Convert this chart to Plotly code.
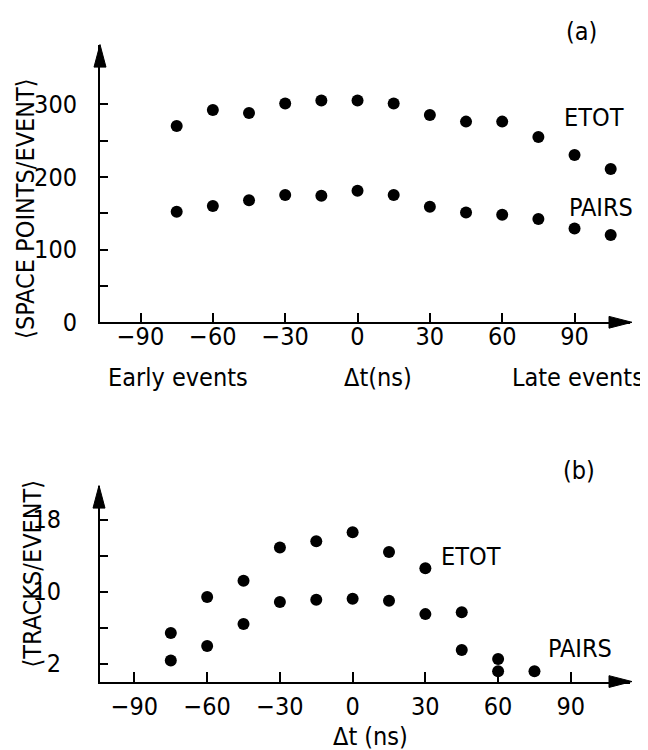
import plotly.graph_objects as go

# ---------------- data ----------------
dt_a = [-75, -60, -45, -30, -15, 0, 15, 30, 45, 60, 75, 90, 105]
etot_a = [270, 292, 288, 301, 305, 305, 301, 285, 276, 276, 255, 230, 211]
pairs_a = [152, 160, 168, 175, 174, 181, 175, 159, 151, 148, 142, 129, 120]

dt_b_etot = [-75, -60, -45, -30, -15, 0, 15, 30, 45, 60]
etot_b = [5.4, 9.4, 11.2, 14.9, 15.6, 16.6, 14.4, 12.6, 7.7, 2.5]
dt_b_pairs = [-75, -60, -45, -30, -15, 0, 15, 30, 45, 60, 75]
pairs_b = [2.35, 3.95, 6.4, 8.85, 9.1, 9.2, 9.0, 7.5, 3.5, 1.15, 1.15]

x_tick_vals = [-90, -60, -30, 0, 30, 60, 90]
x_tick_text = ["\u221290", "\u221260", "\u221230", "0", "30", "60", "90"]
ya_tick_vals = [0, 50, 100, 150, 200, 250, 300]
ya_tick_text = ["0", "", "100", "", "200", "", "300"]
yb_tick_vals = [2, 6, 10, 14, 18]
yb_tick_text = ["2", "", "10", "", "18"]

W, H = 648, 750
FONT = "DejaVu Sans Condensed, DejaVu Sans, sans-serif"
FS = 25


def px(x, y):
    return x / W, 1 - y / H


fig = go.Figure()
mk = dict(size=12, color="black")
fig.add_trace(go.Scatter(x=dt_a, y=etot_a, mode="markers", marker=mk, xaxis="x", yaxis="y"))
fig.add_trace(go.Scatter(x=dt_a, y=pairs_a, mode="markers", marker=mk, xaxis="x", yaxis="y"))
fig.add_trace(go.Scatter(x=dt_b_etot, y=etot_b, mode="markers", marker=mk, xaxis="x2", yaxis="y2"))
fig.add_trace(go.Scatter(x=dt_b_pairs, y=pairs_b, mode="markers", marker=mk, xaxis="x2", yaxis="y2"))

axis_common = dict(showline=True, linewidth=2, linecolor="black", ticks="inside",
                   tickwidth=2, tickcolor="black", showgrid=False, zeroline=False,
                   tickfont=dict(family=FONT, size=FS, color="black"))

xdom = [92 / W, 622 / W]
fig.update_layout(
    width=W, height=H, margin=dict(l=0, r=0, t=0, b=0),
    paper_bgcolor="white", plot_bgcolor="white", showlegend=False,
    xaxis=dict(domain=xdom, range=[-106.8, 113.0], anchor="y", tickvals=x_tick_vals,
               ticktext=x_tick_text, ticklen=9, ticklabelstandoff=-9, **axis_common),
    yaxis=dict(domain=[1 - 320.7 / H, 1 - 37.3 / H], range=[0, 382], anchor="x",
               tickvals=ya_tick_vals, ticktext=ya_tick_text, ticklen=8,
               ticklabelstandoff=16, **axis_common),
    xaxis2=dict(domain=xdom, range=[-104.2, 114.4], anchor="y2", tickvals=x_tick_vals,
                ticktext=x_tick_text, ticklen=10, ticklabelstandoff=1, **axis_common),
    yaxis2=dict(domain=[1 - 687.3 / H, 1 - 487.3 / H], range=[0, 21.8], anchor="x2",
                tickvals=yb_tick_vals, ticktext=yb_tick_text, ticklen=8,
                ticklabelstandoff=32, **axis_common),
)

# arrowheads
def tri(pts):
    p = [px(*q) for q in pts]
    return "M {} {} L {} {} L {} {} Z".format(p[0][0], p[0][1], p[1][0], p[1][1], p[2][0], p[2][1])

shapes = []
for (ax_x, top_y, axis_y) in [(92, 37.3, 320.7), (91, 487.3, 687.3)]:
    shapes.append(dict(type="path", xref="paper", yref="paper",
                       path=tri([(ax_x, top_y), (ax_x - 6, top_y + 23), (ax_x + 6, top_y + 23)]),
                       fillcolor="black", line=dict(color="black", width=1)))
    shapes.append(dict(type="path", xref="paper", yref="paper",
                       path=tri([(624, axis_y), (601, axis_y - 6), (601, axis_y + 6)]),
                       fillcolor="black", line=dict(color="black", width=1)))
fig.update_layout(shapes=shapes)

def ann(text, x, y, angle=0):
    ax_, ay_ = px(x, y)
    fig.add_annotation(text=text, x=ax_, y=ay_, xref="paper", yref="paper",
                       showarrow=False, textangle=angle, xanchor="center", yanchor="middle",
                       font=dict(family=FONT, size=FS, color="black"))

ann("(a)", 573, 24)
ann("ETOT", 586, 112)
ann("PAIRS", 593, 204)
ann("Early events", 170, 377)
ann("\u0394t(ns)", 370, 377)
ann("Late events", 570, 377)
ann("\u27E8SPACE POINTS/EVENT\u27E9", 18, 205, -90)

ann("(b)", 571, 472)
ann("ETOT", 463, 560)
ann("PAIRS", 572, 654)
ann("\u0394t (ns)", 362, 743)
ann("\u27E8TRACKS/EVENT\u27E9", 24, 577, -90)

fig.write_html("out.html")
